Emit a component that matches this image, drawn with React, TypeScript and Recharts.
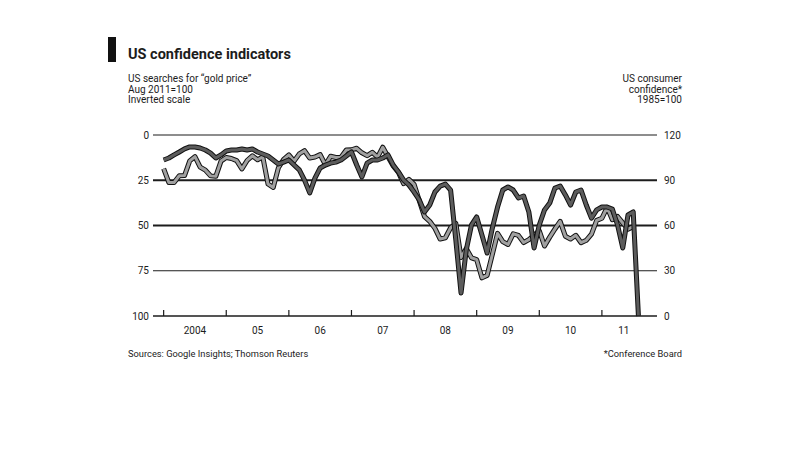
import { Line, LineChart, ReferenceLine, XAxis, YAxis } from 'recharts';

/* ─────────────── data: monthly, Jan 2004 onwards ─────────────── */

const startYear = 2004;

// US searches for "gold price", Aug 2011=100 (drawn on an inverted scale)
const goldSearches = [
  13.8, 12.7, 11.0, 9.4, 7.7, 6.6, 6.6, 7.2, 8.3, 10.0, 12.7, 11.0,
  8.8, 8.3, 8.3, 7.7, 8.3, 7.7, 9.4, 10.5, 11.6, 13.8, 16.0, 15.0,
  13.8, 16.6, 19.3, 24.9, 32.0, 23.8, 18.2, 16.6, 15.5, 15.0, 13.8, 11.6,
  9.4, 16.6, 23.2, 15.5, 13.8, 13.8, 12.7, 11.0, 16.6, 20.4, 24.9, 27.6,
  31.5, 35.9, 42.5, 38.7, 31.5, 28.2, 27.1, 30.4, 58.0, 87.3, 63.5, 49.7,
  45.3, 55.2, 65.2, 51.4, 39.8, 30.4, 28.7, 30.4, 34.8, 33.7, 42.5, 62.4,
  49.7, 41.4, 37.6, 29.3, 28.2, 33.1, 38.7, 31.5, 30.4, 38.7, 45.9, 41.4,
  39.8, 39.8, 40.9, 49.7, 62.4, 44.2, 42.5, 100.0,
];

// US consumer confidence, 1985=100
const consumerConfidence = [
  97.7, 88.5, 88.5, 93.0, 93.1, 102.8, 105.7, 98.7, 96.7, 92.9, 92.6, 102.7,
  105.1, 104.4, 103.0, 97.5, 103.1, 106.2, 103.6, 105.5, 87.5, 85.2, 98.3, 103.8,
  106.8, 102.7, 107.5, 109.6, 104.7, 105.4, 107.0, 100.2, 105.9, 105.1, 105.3, 110.0,
  110.2, 111.2, 108.2, 106.3, 108.5, 105.3, 111.9, 105.6, 99.5, 95.2, 87.8, 90.6,
  87.3, 76.4, 65.9, 62.8, 58.1, 51.0, 51.9, 58.5, 61.4, 38.8, 44.7, 38.6,
  37.4, 25.3, 26.9, 40.8, 54.8, 49.3, 47.4, 54.5, 53.4, 48.7, 50.6, 53.6,
  56.5, 46.4, 52.3, 57.7, 62.7, 52.9, 51.0, 53.5, 48.6, 50.2, 54.3, 63.4,
  64.8, 72.0, 63.8, 66.0, 61.7, 57.6, 59.2,
];

const yearTicks = [2004, 2005, 2006, 2007, 2008, 2009, 2010, 2011];
const yearLabelTicks = [2004.5, 2005.5, 2006.5, 2007.5, 2008.5, 2009.5, 2010.5, 2011.35];
const leftTicks = [0, 25, 50, 75, 100];
const rightTicks = [0, 30, 60, 90, 120];
const gridLevels = [0, 25, 50, 75];
const gridWidths = [1.2, 2, 2.2, 1.2];

const chartData = goldSearches.map((gold, i) => ({
  t: startYear + i / 12,
  gold,
  cc: i < consumerConfidence.length ? consumerConfidence[i] : null,
}));

const ink = '#1c1c1c';
const font = "Roboto, 'Liberation Sans', sans-serif";

function YearTick({ x, y }: { x?: number; y?: number }) {
  const yy = y ?? 0;
  return <line x1={x} y1={yy - 6} x2={x} y2={yy} stroke={ink} strokeWidth={1.2} />;
}

function yearLabel(v: number) {
  const year = Math.floor(v);
  return year === 2004 ? '2004' : String(year).slice(2);
}

export default function App() {
  return (
    <div
      style={{
        position: 'absolute',
        left: 0,
        top: 0,
        width: 810,
        height: 464,
        background: '#fff',
        fontFamily: font,
        color: ink,
      }}
    >
      {/* title block */}
      <div style={{ position: 'absolute', left: 108, top: 37, width: 8, height: 25, background: '#111' }} />
      <div
        style={{ position: 'absolute', left: 128, top: 46, fontSize: 14.5, lineHeight: '18px', fontWeight: 700 }}
      >
        US confidence indicators
      </div>
      <div style={{ position: 'absolute', left: 128, top: 74, fontSize: 10, lineHeight: '10.5px' }}>
        US searches for “gold price”
        <br />
        Aug 2011=100
        <br />
        Inverted scale
      </div>
      <div
        style={{
          position: 'absolute',
          right: 810 - 682,
          top: 74,
          fontSize: 10,
          lineHeight: '10.5px',
          textAlign: 'right',
        }}
      >
        US consumer
        <br />
        confidence*
        <br />
        1985=100
      </div>

      <LineChart
        width={810}
        height={464}
        data={chartData}
        margin={{ top: 135, right: 123, bottom: 118, left: 123 }}
      >
        {gridLevels.map((v, i) => (
          <ReferenceLine key={v} yAxisId="left" y={v} stroke={ink} strokeWidth={gridWidths[i]} />
        ))}
        <XAxis
          dataKey="t"
          type="number"
          domain={[2003.83, 2011.88]}
          ticks={yearTicks}
          interval={0}
          height={1}
          tickSize={0}
          tickMargin={0}
          tickLine={false}
          axisLine={{ stroke: ink, strokeWidth: 1.5 }}
          tick={<YearTick />}
          allowDataOverflow
        />
        <XAxis
          xAxisId="labels"
          dataKey="t"
          type="number"
          domain={[2003.83, 2011.88]}
          ticks={yearLabelTicks}
          interval={0}
          height={29}
          tickSize={0}
          tickMargin={10}
          tickLine={false}
          axisLine={false}
          tickFormatter={yearLabel}
          tick={{ fontSize: 10, fill: ink }}
          allowDataOverflow
        />
        <YAxis
          yAxisId="left"
          reversed
          domain={[0, 100]}
          ticks={leftTicks}
          interval={0}
          width={30}
          tickSize={0}
          tickMargin={4}
          axisLine={false}
          tickLine={false}
          tick={{ fontSize: 10, fill: ink }}
        />
        <YAxis
          yAxisId="right"
          orientation="right"
          domain={[0, 120]}
          ticks={rightTicks}
          interval={0}
          width={30}
          tickSize={0}
          tickMargin={7}
          axisLine={false}
          tickLine={false}
          tick={{ fontSize: 10, fill: ink, textAnchor: 'start' }}
        />
        <Line
          yAxisId="right"
          type="linear"
          dataKey="cc"
          stroke="#111"
          strokeWidth={5}
          strokeLinejoin="round"
          dot={false}
          isAnimationActive={false}
        />
        <Line
          yAxisId="right"
          type="linear"
          dataKey="cc"
          stroke="#a0a0a0"
          strokeWidth={3}
          strokeLinejoin="round"
          dot={false}
          isAnimationActive={false}
        />
        <Line
          yAxisId="left"
          type="linear"
          dataKey="gold"
          stroke="#111"
          strokeWidth={5}
          strokeLinejoin="round"
          dot={false}
          isAnimationActive={false}
        />
        <Line
          yAxisId="left"
          type="linear"
          dataKey="gold"
          stroke="#5c5c5c"
          strokeWidth={3}
          strokeLinejoin="round"
          dot={false}
          isAnimationActive={false}
        />
      </LineChart>

      <div style={{ position: 'absolute', left: 128, top: 349, fontSize: 9.3, lineHeight: '10px' }}>
        Sources: Google Insights; Thomson Reuters
      </div>
      <div
        style={{ position: 'absolute', right: 810 - 682, top: 349, fontSize: 9.3, lineHeight: '10px' }}
      >
        *Conference Board
      </div>
    </div>
  );
}
